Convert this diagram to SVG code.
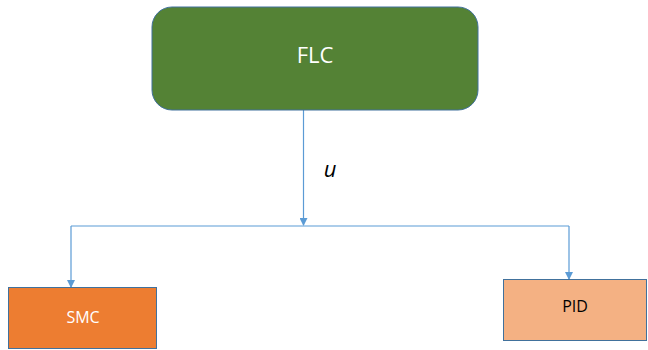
<svg xmlns="http://www.w3.org/2000/svg" width="648" height="350" viewBox="0 0 648 350">
<style>
.box{stroke:#41719C;stroke-width:1}
.lbl{font-family:"Open Sans","Liberation Sans",sans-serif;text-anchor:middle}
.conn{fill:none;stroke:#5B9BD5;stroke-width:1.2}
</style>
<defs>
<marker id="arr" markerWidth="8" markerHeight="8" refX="7" refY="4" orient="auto" markerUnits="userSpaceOnUse">
<path d="M0,0 L8,4 L0,8 Z" fill="#5B9BD5"/>
</marker>
</defs>
<rect width="648" height="350" fill="#ffffff"/>
<g id="connectors">
<line class="conn" x1="303.5" y1="110" x2="303.5" y2="225" marker-end="url(#arr)"/>
<polyline class="conn" points="71,226 569,226"/>
<line class="conn" x1="71" y1="226" x2="71" y2="287" marker-end="url(#arr)"/>
<line class="conn" x1="569" y1="226" x2="569" y2="279" marker-end="url(#arr)"/>
<text class="lbl" x="330" y="177" font-size="22" font-style="italic" fill="#000">u</text>
</g>
<g id="flc">
<rect class="box" x="152" y="7" width="326" height="103" rx="20" ry="20" fill="#548235"/>
<text class="lbl" x="315" y="63" font-size="22" fill="#ffffff">FLC</text>
</g>
<g id="smc">
<rect class="box" x="8.5" y="287.5" width="148" height="61" fill="#ED7D31"/>
<text class="lbl" x="83" y="323" font-size="16" fill="#ffffff">SMC</text>
</g>
<g id="pid">
<rect class="box" x="503.5" y="279.5" width="143" height="61" fill="#F4B183"/>
<text class="lbl" x="575" y="312" font-size="16" fill="#000000">PID</text>
</g>
</svg>
